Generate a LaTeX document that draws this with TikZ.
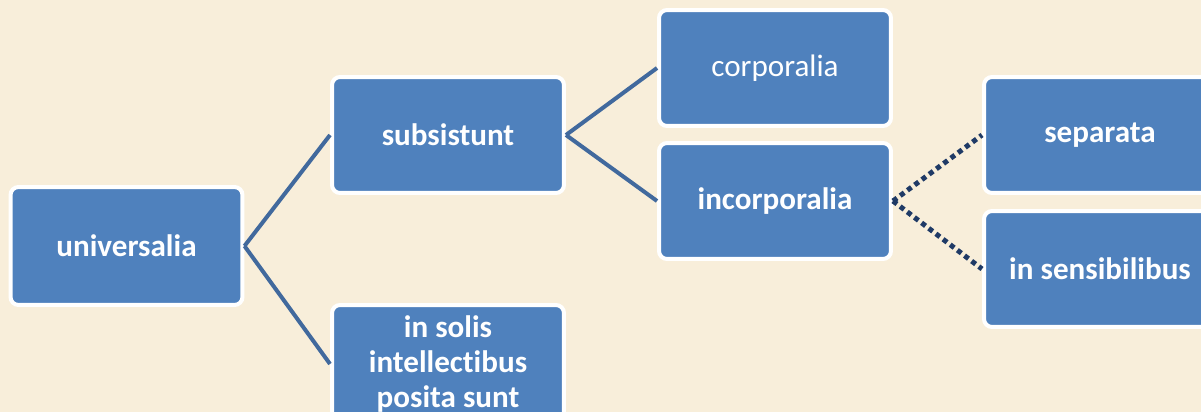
\documentclass[tikz,border=0pt]{standalone}
\usepackage{fontspec}
\setmainfont{Carlito}[Ligatures=NoCommon]

\definecolor{parchment}{HTML}{F8EEDA}
\definecolor{boxblue}{HTML}{4F81BD}
\definecolor{linkblue}{HTML}{41699D}
\definecolor{dotblue}{HTML}{1F3A66}

\tikzset{
  box/.style={rectangle, fill=boxblue, draw=white, line width=0.08cm,
    rounded corners=0.16cm, minimum width=4.64cm, minimum height=2.32cm,
    text=white, align=center, font=\fontsize{17.7}{20}\selectfont\bfseries},
  link/.style={draw=linkblue, line width=0.08cm},
  dotlink/.style={draw=dotblue, line width=0.1cm, dash pattern=on 0.1cm off 0.08cm}
}

\begin{document}
\begin{tikzpicture}[x=0.02cm, y=-0.02cm]

    % Background and page size
    \useasboundingbox (0,0) rectangle (1201,412);
    \fill[parchment] (0,0) rectangle (1201,412);

    % The boxes of the tree
    \node[box, minimum height=2.36cm] (universalia) at (126.5,246) {universalia};
    \node[box] (subsistunt) at (448,135) {subsistunt};
    \node[box, minimum height=2.36cm] (insolis) at (448,364) {in solis\\intellectibus\\posita sunt};
    \node[box, font=\fontsize{17.7}{20}\selectfont] (corporalia) at (775,68) {corporalia};
    \node[box] (incorporalia) at (775,201) {incorporalia};
    \node[box] (separata) at (1100,135) {separata};
    \node[box] (insensibilibus) at (1100,269) {in sensibilibus};

    % Solid branches
    \draw[link] (universalia.east) -- (subsistunt.west);
    \draw[link] (universalia.east) -- (insolis.west);
    \draw[link] (subsistunt.east) -- (corporalia.west);
    \draw[link] (subsistunt.east) -- (incorporalia.west);

    % Dotted branches
    \draw[dotlink] (incorporalia.east) -- (separata.west);
    \draw[dotlink] (incorporalia.east) -- (insensibilibus.west);

\end{tikzpicture}
\end{document}
